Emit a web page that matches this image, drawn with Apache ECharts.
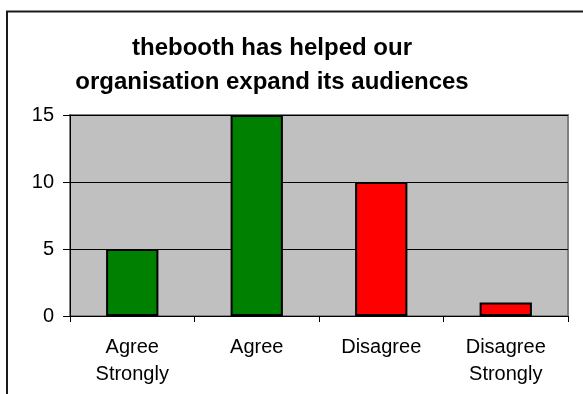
<!DOCTYPE html>
<html>
<head>
<meta charset="utf-8">
<style>
  html, body { margin: 0; padding: 0; background: #fff; }
  #chart { width: 583px; height: 394px; }
</style>
<script src="https://cdn.jsdelivr.net/npm/echarts@6/dist/echarts.min.js"></script>
</head>
<body>
<div id="chart"></div>
<script>
// Survey responses
const categories = ['Agree\nStrongly', 'Agree', 'Disagree', 'Disagree\nStrongly'];
const responses = [5, 15, 10, 1];
const barColors = ['#008000', '#008000', '#FF0000', '#FF0000'];
const yTicks = { min: 0, max: 15, interval: 5 };
const titleText = 'thebooth has helped our\norganisation expand its audiences';

const chart = echarts.init(document.getElementById('chart'), null, { renderer: 'canvas' });

const font = '"Liberation Sans", Arial, sans-serif';

chart.setOption({
  backgroundColor: '#ffffff',
  animation: false,
  graphic: [{
    type: 'rect',
    silent: true,
    shape: { x: 7, y: 11.5, width: 700, height: 600 },
    style: { fill: 'none', stroke: '#1a1a1a', lineWidth: 2 }
  }],
  title: {
    text: titleText,
    left: 267,
    top: 26,
    textAlign: 'center',
    textStyle: {
      fontFamily: font,
      fontSize: 24,
      fontWeight: 'bold',
      color: '#000',
      lineHeight: 34
    }
  },
  grid: {
    left: 70,
    right: 15,
    top: 115,
    bottom: 78,
    show: true,
    backgroundColor: '#C0C0C0',
    borderColor: '#808080',
    borderWidth: 2
  },
  xAxis: {
    type: 'category',
    data: categories,
    axisLine: { lineStyle: { color: '#000', width: 1 } },
    axisTick: { show: true, alignWithLabel: false, length: 6, lineStyle: { color: '#000' } },
    axisLabel: {
      color: '#000',
      fontFamily: font,
      fontSize: 20,
      lineHeight: 27,
      margin: 18,
      interval: 0
    }
  },
  yAxis: {
    type: 'value',
    min: yTicks.min,
    max: yTicks.max,
    interval: yTicks.interval,
    axisLine: { show: true, lineStyle: { color: '#000', width: 1 } },
    axisTick: { show: true, length: 7, lineStyle: { color: '#000' } },
    splitLine: { show: true, lineStyle: { color: '#000', width: 1 } },
    axisLabel: {
      color: '#000',
      fontFamily: font,
      fontSize: 20,
      margin: 16
    }
  },
  series: [{
    type: 'bar',
    data: responses.map((v, i) => ({ value: v, itemStyle: { color: barColors[i] } })),
    barWidth: '42%',
    itemStyle: { borderColor: '#000', borderWidth: 2 }
  }]
});
</script>
</body>
</html>
